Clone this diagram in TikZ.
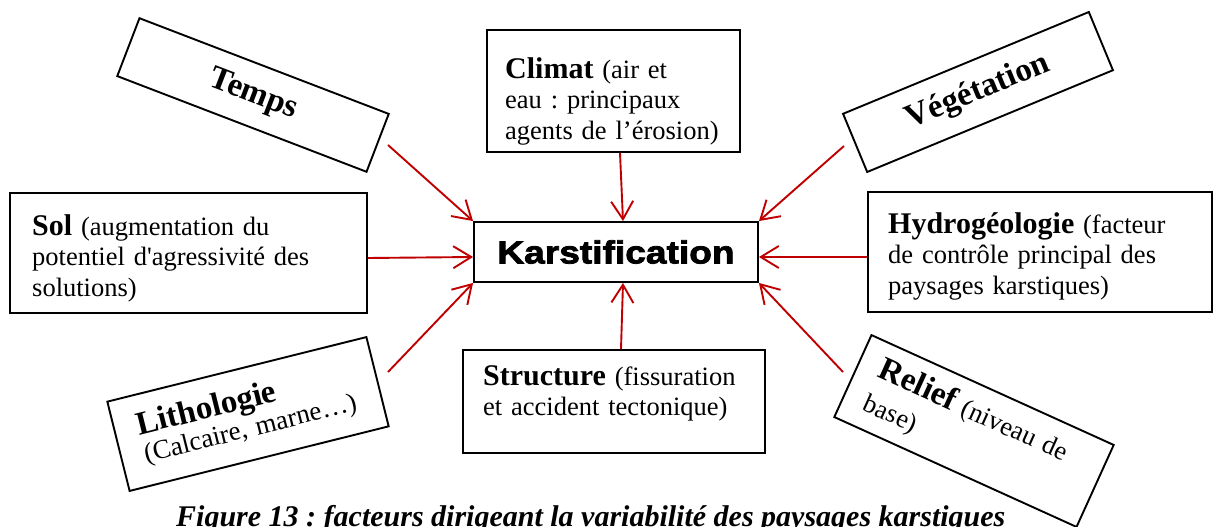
\documentclass[tikz,border=0pt]{standalone}
\usepackage{fontspec}
\setmainfont{Liberation Serif}
\newfontfamily\karstfont{Liberation Sans}[UprightFont={* Bold},FakeStretch=1.16,FakeBold=2.5]
\usetikzlibrary{arrows.meta}
\definecolor{arrred}{HTML}{C00000}
\newcommand\boxtitle{\fontsize{30}{30}\selectfont\bfseries}
\newcommand\boxtitlebig{\fontsize{33}{33}\selectfont\bfseries}
\frenchspacing

\begin{document}
\begin{tikzpicture}[x=1pt,y=-1pt,
  box/.style={draw=black, line width=1.9pt, fill=white, inner sep=0pt},
  txt/.style={align=left, inner sep=0pt, font=\fontsize{26.5}{30.5}\selectfont},
  arr/.style={draw=arrred, line width=1.9pt, -{Straight Barb[length=18pt,width=22pt]}},
  caption/.style={inner sep=0pt, anchor=base west, font=\fontsize{30}{30}\selectfont\bfseries\itshape}]
\useasboundingbox (0,0) rectangle (1223,527);
\clip (0,0) rectangle (1223,527);

% figure caption (runs off the bottom edge)
\node[caption] (cap) at (176,526) {Figure 13 : facteurs dirigeant la variabilité des paysages karstiques};

% central process
\node[box, minimum width=284pt, minimum height=60pt] (karst) at (616,252)
  {\karstfont\fontsize{32}{32}\selectfont Karstification};

% upright factor boxes
\node[box, minimum width=253pt, minimum height=122pt] (climat) at (613.5,91) {};
\node[txt, text width=230pt, anchor=base west] (climat-t) at (505,78)
  {{\boxtitle Climat} (air et\\eau : principaux\\agents de l’érosion)};

\node[box, minimum width=357pt, minimum height=120pt] (sol) at (188.5,253) {};
\node[txt, text width=330pt, anchor=base west] (sol-t) at (32,235)
  {{\boxtitle Sol} (augmentation du\\potentiel d\textquotesingle agressivité des\\solutions)};

\node[box, minimum width=344pt, minimum height=120pt] (hydro) at (1040,252) {};
\node[txt, text width=320pt, anchor=base west] (hydro-t) at (888,233)
  {{\boxtitle Hydrogéologie} (facteur\\de contrôle principal des\\paysages karstiques)};

\node[box, minimum width=302pt, minimum height=103pt] (structure) at (614,401.5) {};
\node[txt, text width=280pt, anchor=base west] (structure-t) at (483,385)
  {{\boxtitle Structure} (fissuration\\et accident tectonique)};

% tilted factor boxes
\node[box, rotate=-21, minimum width=267pt, minimum height=62pt] (temps) at (253,95)
  {\boxtitlebig Temps};
\node[box, rotate=22.5, minimum width=266pt, minimum height=63pt] (vege) at (978,92)
  {\boxtitlebig Végétation};
\node[box, rotate=14, minimum width=267pt, minimum height=92pt, inner xsep=23pt,
      text width=221pt, align=left, font=\fontsize{27}{28.5}\selectfont] (litho) at (248,414)
  {{\boxtitlebig Lithologie}\\(Calcaire, marne…)};
\node[box, rotate=-24.4, minimum width=266pt, minimum height=90pt, inner xsep=22pt,
      text width=222pt, align=left, font=\fontsize{26.5}{36}\selectfont] (relief) at (974,431)
  {{\boxtitlebig Relief} (niveau de\\base)};

% arrow tails next to the tilted boxes
\coordinate (temps-out) at (388,145);
\coordinate (vege-out) at (844,146);
\coordinate (litho-out) at (388,372);
\coordinate (relief-out) at (843,372);

% influences converging on the central box
\draw[arr] (temps-out) -- (karst.north west);
\draw[arr] ([xshift=6.5pt]climat.south) -- ([xshift=7pt]karst.north);
\draw[arr] (vege-out) -- (karst.north east);
\draw[arr] ([yshift=-5pt]sol.east) -- ([yshift=-5pt]karst.west);
\draw[arr] ([yshift=-5pt]hydro.west) -- ([yshift=-5pt]karst.east);
\draw[arr] (litho-out) -- (karst.south west);
\draw[arr] ([xshift=7pt]structure.north) -- ([xshift=7pt]karst.south);
\draw[arr] (relief-out) -- (karst.south east);
\end{tikzpicture}
\end{document}
